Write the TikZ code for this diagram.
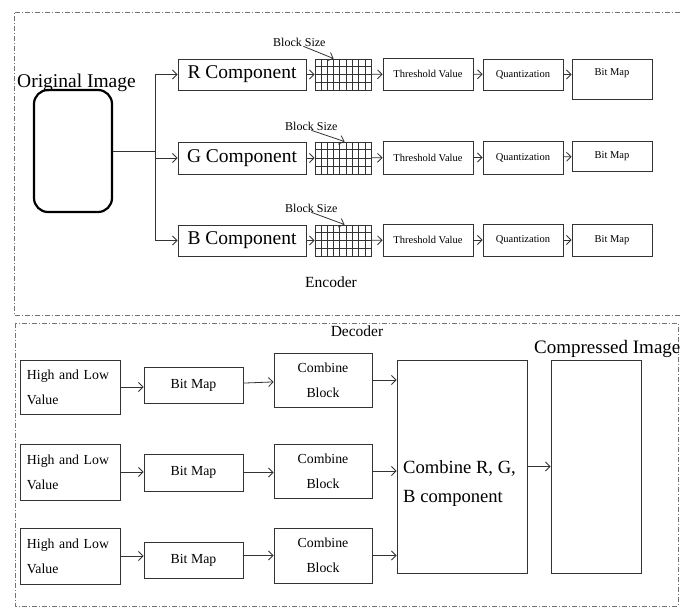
\documentclass[tikz,border=0pt]{standalone}
\usepackage{fontspec}
\setmainfont{Liberation Serif}
\usetikzlibrary{calc,arrows.meta}
\definecolor{framegray}{gray}{0.45}
\definecolor{linegray}{gray}{0.2}

\begin{document}
\begin{tikzpicture}[x=1pt,y=-1pt,>={Straight Barb[length=4.5pt,width=9pt]},
  box/.style={draw=linegray,line width=0.9pt,inner sep=0pt},
  frame/.style={draw=framegray,line width=0.8pt,dash pattern=on 5pt off 2pt on 1pt off 2pt},
  conn/.style={->,draw=linegray,line width=0.8pt},
  gridline/.style={draw=linegray,line width=0.7pt},
  big/.style={font=\fontsize{19.5}{22}\selectfont},
  small/.style={font=\fontsize{10.5}{12}\selectfont},
  mid/.style={font=\fontsize{13.8}{25}\selectfont},
  note/.style={font=\fontsize{12}{14}\selectfont,inner sep=0pt,anchor=base west},
  title/.style={font=\fontsize{15.5}{18}\selectfont,inner sep=0pt}]

  \useasboundingbox (0,0) rectangle (680,608);

  % encoder and decoder frames
  \draw[frame] (690,12) -- (14,12) -- (14,315) -- (690,315);
  \draw[frame] (15,323) rectangle (678,606);

  % ---------------- encoder ----------------
  \node at (17,87) [anchor=base west,inner sep=0pt,big,name=origlabel] {Original Image};
  \node at (73,151) [draw=black,line width=2.2pt,rounded corners=14pt,
    minimum width=78,minimum height=122,name=orig] {};
  \coordinate (split) at (155,151);

  \node at (242,74.5) [box,big,minimum width=128,minimum height=31,name=rComp] {R Component};
  \node at (242,158) [box,big,minimum width=128,minimum height=32,name=gComp] {G Component};
  \node at (242,240.5) [box,big,minimum width=128,minimum height=31,name=bComp] {B Component};

  \node at (343,74.5) [box,minimum width=56,minimum height=31,name=gridR] {};
  \node at (343,158) [box,minimum width=56,minimum height=32,name=gridG] {};
  \node at (343,240.5) [box,minimum width=56,minimum height=31,name=gridB] {};
  \foreach \g in {gridR,gridG,gridB} {
    \foreach \k in {1,...,8}
      \draw[gridline] ($(\g.north west)!\k/9!(\g.north east)$) -- ($(\g.south west)!\k/9!(\g.south east)$);
    \foreach \k in {1,2,3}
      \draw[gridline] ($(\g.north west)!\k/4!(\g.south west)$) -- ($(\g.north east)!\k/4!(\g.south east)$);
  }

  \node at (273,46) [note,name=bsR] {Block Size};
  \node at (285,130) [note,name=bsG] {Block Size};
  \node at (285,212) [note,name=bsB] {Block Size};

  \node at (428,74) [box,small,minimum width=90,minimum height=32,name=thrR] {Threshold Value};
  \node at (428,157.5) [box,small,minimum width=90,minimum height=33,name=thrG] {Threshold Value};
  \node at (428,240) [box,small,minimum width=90,minimum height=32,name=thrB] {Threshold Value};

  \node at (523,74.5) [box,small,minimum width=80,minimum height=31,name=quR] {Quantization};
  \node at (523,157.5) [box,small,minimum width=80,minimum height=33,name=quG] {Quantization};
  \node at (523,240) [box,small,minimum width=80,minimum height=32,name=quB] {Quantization};

  \node at (612,59) [box,small,anchor=north,minimum width=80,text height=10,text depth=18,
    inner ysep=6,name=bmR] {Bit Map};
  \node at (612,156) [box,small,minimum width=80,minimum height=30,name=bmG] {Bit Map};
  \node at (612,240) [box,small,minimum width=80,minimum height=32,name=bmB] {Bit Map};

  \node at (331,282) [title,name=enc] {Encoder};

  \draw[line width=0.8pt,draw=linegray] (orig.east) -- (split);
  \draw[conn] (split) |- (rComp.west);
  \draw[conn] (split) |- (gComp.west);
  \draw[conn] (split) |- (bComp.west);

  \draw[conn] (rComp) -- (gridR);
  \draw[conn] (gComp) -- (gridG);
  \draw[conn] (bComp) -- (gridB);
  \draw[conn] (gridR) -- (thrR);
  \draw[conn] (gridG) -- (thrG);
  \draw[conn] (gridB) -- (thrB);
  \draw[conn] (thrR) -- (quR);
  \draw[conn] (thrG) -- (quG);
  \draw[conn] (thrB) -- (quB);
  \draw[conn] (quR.east) -- (quR.east -| bmR.west);
  \draw[conn] (quG) -- (bmG);
  \draw[conn] (quB) -- (bmB);

  \draw[conn] ([xshift=4]bsR.south) -- ([xshift=19]gridR.north west);
  \draw[conn] ([xshift=0]bsG.south) -- ([xshift=30]gridG.north west);
  \draw[conn] ([xshift=0]bsB.south) -- ([xshift=30]gridB.north west);

  % ---------------- decoder ----------------
  \node at (357,331) [title,name=dec] {Decoder};

  \node at (70,387) [box,mid,minimum width=100,minimum height=54,text width=86,align=left,name=hl1] {High and Low\\Value};
  \node at (70,472) [box,mid,minimum width=100,minimum height=56,text width=86,align=left,name=hl2] {High and Low\\Value};
  \node at (70,556) [box,mid,minimum width=100,minimum height=56,text width=86,align=left,name=hl3] {High and Low\\Value};

  \node at (193.5,385) [box,mid,minimum width=99,minimum height=36,name=bm1] {Bit Map};
  \node at (193.5,472.5) [box,mid,minimum width=99,minimum height=37,name=bm2] {Bit Map};
  \node at (193.5,560) [box,mid,minimum width=99,minimum height=36,name=bm3] {Bit Map};

  \node at (323,380) [box,mid,minimum width=98,minimum height=54,align=center,name=cb1] {Combine\\Block};
  \node at (323,471) [box,mid,minimum width=98,minimum height=54,align=center,name=cb2] {Combine\\Block};
  \node at (323,555.5) [box,mid,minimum width=98,minimum height=55,align=center,name=cb3] {Combine\\Block};

  \node at (462,466.5) [box,minimum width=130,minimum height=213,name=comb] {};
  \node at (403,484) [anchor=west,inner sep=0pt,align=left,
    font=\fontsize{18.6}{29}\selectfont,name=combtext] {Combine R, G,\\B component};

  \node at (596,466.5) [box,minimum width=90,minimum height=213,name=comp] {};
  \node at (534,353) [anchor=base west,inner sep=0pt,font=\fontsize{19}{22}\selectfont,name=complabel] {Compressed Image};

  \draw[conn] (hl1.east) -- (hl1.east -| bm1.west);
  \draw[conn] (hl2.east) -- (hl2.east -| bm2.west);
  \draw[conn] (hl3.east) -- (hl3.east -| bm3.west);
  \draw[conn] (bm1) -- (cb1);
  \draw[conn] (bm2.east) -- (bm2.east -| cb2.west);
  \draw[conn] (cb3.west -| bm3.east) -- (cb3.west);
  \draw[conn] (cb1.east) -- (cb1.east -| comb.west);
  \draw[conn] (cb2.east) -- (cb2.east -| comb.west);
  \draw[conn] (cb3.east) -- (cb3.east -| comb.west);
  \draw[conn] (comb) -- (comp);
\end{tikzpicture}
\end{document}
